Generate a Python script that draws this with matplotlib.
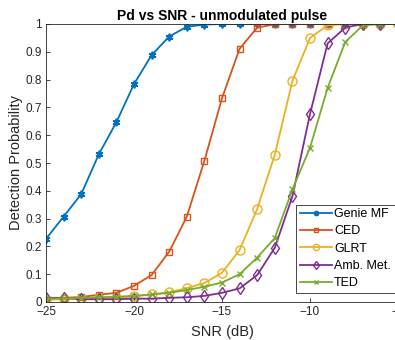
import numpy as np
import matplotlib
matplotlib.use('Agg')
from matplotlib import pyplot as plt

plt.rcParams['font.family'] = ['Liberation Sans', 'DejaVu Sans']

snr = list(range(-25, -4))

genie_mf = [0.227, 0.307, 0.388, 0.531, 0.647, 0.784, 0.888, 0.955, 0.99, 0.998,
            1, 1, 1, 1, 1, 1, 1, 1, 1, 1, 1]
ced = [0.012, 0.015, 0.018, 0.026, 0.033, 0.058, 0.097, 0.181, 0.307, 0.508,
       0.733, 0.911, 0.987, 0.999, 1, 1, 1, 1, 1, 1, 1]
glrt = [0.008, 0.01, 0.012, 0.014, 0.016, 0.02, 0.027, 0.035, 0.05, 0.068,
        0.105, 0.187, 0.335, 0.53, 0.795, 0.95, 0.995, 1, 1, 1, 1]
amb_met = [0.015, 0.015, 0.01, 0.01, 0.01, 0.012, 0.012, 0.015, 0.017, 0.022,
           0.033, 0.049, 0.097, 0.195, 0.38, 0.676, 0.93, 0.987, 1, 1, 1]
ted = [0.012, 0.013, 0.015, 0.017, 0.019, 0.022, 0.027, 0.033, 0.043, 0.055,
       0.07, 0.1, 0.16, 0.23, 0.405, 0.555, 0.77, 0.935, 0.995, 1, 1]

labels = ['Genie MF', 'CED', 'GLRT', 'Amb. Met.', 'TED']
colors = ['#0072BD', '#D95319', '#EDB120', '#7E2F8E', '#77AC30']

fig = plt.figure(figsize=(3.95, 3.4), dpi=100)
ax = fig.add_axes([46 / 395, 38 / 340, 352 / 395, 278 / 340])

asterisk = (6, 2, 0)
ax.plot(snr, genie_mf, color=colors[0], marker=asterisk, markersize=5.5, lw=1.3, mew=1.3, label=labels[0])
ax.plot(snr, ced, color=colors[1], marker='s', markersize=4.5, mfc='none', lw=1.3, mew=1.0, label=labels[1])
ax.plot(snr, glrt, color=colors[2], marker='o', markersize=6.5, mfc='none', lw=1.3, mew=1.0, label=labels[2])
ax.plot(snr, amb_met, color=colors[3], marker='d', markersize=6.5, mfc='none', lw=1.3, mew=1.0, label=labels[3])
ax.plot(snr, ted, color=colors[4], marker='x', markersize=4.5, lw=1.3, mew=1.0, label=labels[4])

ax.set_xlim(-25, -5)
ax.set_ylim(0, 1)
ax.set_xticks([-25, -20, -15, -10, -5])
ax.set_yticks(np.arange(0, 1.01, 0.1))
ax.set_yticklabels(['0', '0.1', '0.2', '0.3', '0.4', '0.5', '0.6', '0.7', '0.8', '0.9', '1'])

for s in ax.spines.values():
    s.set_color('#262626')
    s.set_linewidth(0.6)
ax.tick_params(direction='in', length=3, width=0.6, colors='#262626', labelsize=8.5, pad=3)

ax.set_title('Pd vs SNR - unmodulated pulse', fontsize=10, fontweight='bold', pad=3)
ax.set_xlabel('SNR (dB)', fontsize=10.5, color='#262626', labelpad=5)
ax.set_ylabel('Detection Probability', fontsize=10.5, color='#262626', labelpad=2)

leg = ax.legend(loc='lower left', bbox_to_anchor=(296 / 395, 47 / 340), bbox_transform=fig.transFigure,
                fontsize=9, markerscale=0.7, handlelength=2.6,
                fancybox=False, framealpha=1, edgecolor='#262626', borderpad=0.3,
                labelspacing=0.42, handletextpad=0.15, borderaxespad=0)
leg.get_frame().set_linewidth(0.6)

fig.savefig('out.png', dpi=100)
